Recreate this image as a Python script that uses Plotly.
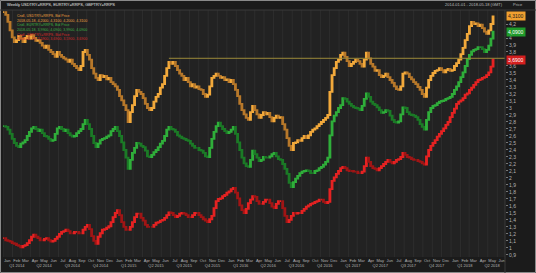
import plotly.graph_objects as go
import pandas as pd

# ---------------- data ----------------
week_start = "2014-01-03"

orange_close = [
    4.37, 4.33, 4.23, 4.11, 4.01, 3.94, 3.97, 4.03, 3.99, 3.94,
    4.00, 4.03, 3.99, 4.04, 4.00, 3.96, 3.97, 3.93, 3.89, 3.86,
    3.89, 3.83, 3.80, 3.77, 3.73, 3.80, 3.76, 3.73, 3.71, 3.69,
    3.66, 3.69, 3.63, 3.60, 3.57, 3.54, 3.60, 3.80, 3.83, 3.76,
    3.69, 3.57, 3.49, 3.43, 3.40, 3.47, 3.44, 3.46, 3.41, 3.43,
    3.37, 3.34, 3.31, 3.26, 3.17, 3.11, 3.04, 2.97, 2.80, 2.94,
    3.04, 3.17, 3.26, 3.23, 3.20, 3.14, 3.06, 3.00, 2.97, 3.00,
    3.09, 3.16, 3.20, 3.29, 3.34, 3.46, 3.57, 3.66, 3.63, 3.66,
    3.60, 3.54, 3.49, 3.46, 3.40, 3.43, 3.37, 3.31, 3.34, 3.29,
    3.31, 3.27, 3.26, 3.20, 3.16, 3.19, 3.31, 3.43, 3.46, 3.49,
    3.46, 3.43, 3.44, 3.40, 3.41, 3.37, 3.40, 3.34, 3.26, 3.17,
    3.06, 2.97, 2.91, 2.86, 2.83, 2.94, 3.03, 2.97, 2.91, 2.86,
    2.90, 2.94, 2.91, 2.93, 2.87, 2.81, 2.86, 2.89, 2.86, 2.87,
    2.77, 2.69, 2.57, 2.46, 2.40, 2.50, 2.51, 2.54, 2.53, 2.57,
    2.60, 2.57, 2.61, 2.66, 2.69, 2.71, 2.74, 2.77, 2.80, 2.83,
    2.86, 2.90, 3.23, 3.47, 3.57, 3.66, 3.69, 3.76, 3.79, 3.73,
    3.67, 3.60, 3.63, 3.66, 3.69, 3.67, 3.63, 3.59, 3.69, 3.79,
    3.71, 3.63, 3.59, 3.53, 3.54, 3.47, 3.44, 3.46, 3.49, 3.44,
    3.40, 3.36, 3.31, 3.27, 3.26, 3.31, 3.49, 3.51, 3.49, 3.44,
    3.41, 3.37, 3.34, 3.30, 3.26, 3.20, 3.16, 3.29, 3.40, 3.46,
    3.50, 3.53, 3.54, 3.57, 3.54, 3.51, 3.54, 3.56, 3.53, 3.54,
    3.60, 3.64, 3.69, 3.77, 3.86, 3.97, 4.06, 4.17, 4.23, 4.20,
    4.21, 4.17, 4.19, 4.14, 4.09, 4.06, 4.11, 4.20, 4.31,
]

green_close = [
    2.74, 2.73, 2.69, 2.63, 2.56, 2.50, 2.46, 2.44, 2.49, 2.51,
    2.54, 2.60, 2.66, 2.71, 2.73, 2.70, 2.67, 2.69, 2.64, 2.60,
    2.59, 2.56, 2.53, 2.54, 2.63, 2.71, 2.73, 2.70, 2.67, 2.69,
    2.64, 2.61, 2.59, 2.60, 2.64, 2.67, 2.70, 2.77, 2.83, 2.77,
    2.70, 2.60, 2.50, 2.44, 2.49, 2.54, 2.56, 2.57, 2.59, 2.61,
    2.67, 2.70, 2.73, 2.67, 2.60, 2.51, 2.40, 2.29, 2.13, 2.26,
    2.36, 2.43, 2.50, 2.49, 2.46, 2.44, 2.39, 2.31, 2.30, 2.33,
    2.37, 2.40, 2.44, 2.49, 2.53, 2.60, 2.69, 2.73, 2.70, 2.69,
    2.66, 2.61, 2.59, 2.57, 2.56, 2.54, 2.53, 2.49, 2.46, 2.43,
    2.43, 2.40, 2.39, 2.36, 2.31, 2.30, 2.43, 2.56, 2.66, 2.74,
    2.79, 2.74, 2.70, 2.67, 2.64, 2.66, 2.69, 2.73, 2.63, 2.51,
    2.40, 2.29, 2.21, 2.17, 2.16, 2.26, 2.39, 2.34, 2.29, 2.24,
    2.26, 2.30, 2.29, 2.29, 2.31, 2.34, 2.36, 2.31, 2.27, 2.26,
    2.20, 2.13, 2.06, 1.93, 1.87, 1.94, 1.99, 2.03, 2.07, 2.09,
    2.10, 2.11, 2.10, 2.07, 2.07, 2.10, 2.11, 2.14, 2.16, 2.19,
    2.23, 2.29, 2.61, 2.81, 2.89, 2.94, 3.00, 3.04, 3.14, 3.13,
    3.09, 3.06, 3.03, 3.01, 3.00, 2.99, 2.97, 3.03, 3.13, 3.21,
    3.16, 3.09, 3.06, 3.04, 3.01, 2.97, 2.93, 2.94, 2.97, 2.96,
    2.89, 2.83, 2.80, 2.79, 2.81, 2.91, 3.01, 3.00, 2.94, 2.91,
    2.90, 2.89, 2.87, 2.83, 2.77, 2.73, 2.69, 2.83, 2.94, 3.00,
    3.03, 3.04, 3.07, 3.09, 3.10, 3.11, 3.13, 3.14, 3.16, 3.20,
    3.26, 3.31, 3.37, 3.44, 3.51, 3.60, 3.70, 3.76, 3.81, 3.83,
    3.84, 3.87, 3.87, 3.84, 3.80, 3.83, 3.89, 3.99, 4.09,
]

red_close = [
    1.14, 1.11, 1.10, 1.09, 1.07, 1.06, 1.04, 1.03, 1.01, 1.03,
    1.04, 1.07, 1.11, 1.16, 1.19, 1.16, 1.14, 1.11, 1.11, 1.13,
    1.14, 1.11, 1.09, 1.10, 1.13, 1.16, 1.20, 1.23, 1.24, 1.26,
    1.24, 1.21, 1.21, 1.23, 1.23, 1.21, 1.21, 1.26, 1.30, 1.33,
    1.27, 1.17, 1.10, 1.06, 1.16, 1.21, 1.26, 1.27, 1.29, 1.31,
    1.37, 1.44, 1.50, 1.54, 1.47, 1.37, 1.30, 1.26, 1.26, 1.30,
    1.37, 1.44, 1.49, 1.49, 1.43, 1.39, 1.33, 1.30, 1.30, 1.30,
    1.33, 1.36, 1.37, 1.39, 1.40, 1.43, 1.47, 1.51, 1.50, 1.47,
    1.44, 1.46, 1.49, 1.50, 1.49, 1.47, 1.44, 1.44, 1.47, 1.50,
    1.50, 1.47, 1.44, 1.41, 1.39, 1.37, 1.41, 1.46, 1.57, 1.67,
    1.70, 1.71, 1.74, 1.76, 1.79, 1.81, 1.84, 1.86, 1.79, 1.71,
    1.61, 1.54, 1.50, 1.56, 1.64, 1.69, 1.74, 1.73, 1.67, 1.63,
    1.63, 1.66, 1.69, 1.69, 1.64, 1.59, 1.57, 1.63, 1.67, 1.67,
    1.57, 1.46, 1.37, 1.40, 1.46, 1.50, 1.49, 1.50, 1.50, 1.53,
    1.56, 1.59, 1.61, 1.63, 1.64, 1.66, 1.67, 1.69, 1.69, 1.66,
    1.64, 1.66, 1.84, 1.96, 2.01, 2.06, 2.10, 2.14, 2.16, 2.14,
    2.11, 2.10, 2.10, 2.09, 2.09, 2.07, 2.07, 2.09, 2.17, 2.29,
    2.23, 2.17, 2.14, 2.13, 2.11, 2.14, 2.17, 2.20, 2.23, 2.26,
    2.23, 2.21, 2.23, 2.26, 2.27, 2.30, 2.36, 2.33, 2.30, 2.29,
    2.27, 2.26, 2.26, 2.24, 2.23, 2.21, 2.19, 2.31, 2.40, 2.46,
    2.50, 2.54, 2.59, 2.63, 2.67, 2.71, 2.76, 2.80, 2.87, 2.93,
    2.99, 3.06, 3.09, 3.11, 3.14, 3.19, 3.21, 3.26, 3.29, 3.33,
    3.37, 3.40, 3.41, 3.43, 3.44, 3.47, 3.51, 3.59, 3.69,
]

series_names = ["USDTRY=RRPS", "EURTRY=RRPS", "GBPTRY=RRPS"]
hline_level = 3.71
hline_start = "2015-06-26"
x_start, x_end = "2014-01-01", "2018-06-26"
y_min, y_max = 0.871, 4.40
y_ticks = [round(0.9 + 0.1 * k, 1) for k in range(35)]
month_abbr = ["Jan", "Feb", "Mar", "Apr", "May", "Jun",
              "Jul", "Aug", "Sep", "Oct", "Nov", "Dec"]

# ---------------- styling ----------------
BG = "#222222"
PAPER = "#1b1b1b"
GRID = "#2d2d2d"
AXTXT = "#b4b4b4"
FONT = "Liberation Sans"

styles = [
    dict(inc="#f2a93b", dec="#b7782a", box="#f0a030", boxtxt="#1b1b1b", txt="#e8a040"),
    dict(inc="#2fae3a", dec="#1b7a26", box="#1f9a2a", boxtxt="#ffffff", txt="#3cb043"),
    dict(inc="#e52222", dec="#a01515", box="#d41e1e", boxtxt="#ffffff", txt="#d42a2a"),
]

W, H = 536, 273
ML, MR, MT, MB = 3, 31, 10, 16
pw, ph = W - ML - MR, H - MT - MB

dates = pd.date_range(week_start, periods=len(orange_close), freq="7D")

fig = go.Figure()


def fmt(v):
    return f"{v:.4f}".replace(".", ",")


legend_lines = []
last_vals = []
for closes, name, st in zip([orange_close, green_close, red_close], series_names, styles):
    opens = [closes[0]] + closes[:-1]
    highs = [max(o, c) for o, c in zip(opens, closes)]
    lows = [min(o, c) for o, c in zip(opens, closes)]
    fig.add_trace(go.Candlestick(
        x=dates, open=opens, high=highs, low=lows, close=closes,
        increasing=dict(line=dict(color=st["inc"], width=1.8), fillcolor=st["inc"]),
        decreasing=dict(line=dict(color=st["dec"], width=1.8), fillcolor=st["dec"]),
        whiskerwidth=0, hoverinfo="skip", showlegend=False,
    ))
    legend_lines.append((f"Cndl, {name}, Bid Price", st["txt"]))
    legend_lines.append((f"{dates[-1]:%Y-%m-%d}, {fmt(opens[-1])}, {fmt(highs[-1])}, "
                         f"{fmt(lows[-1])}, {fmt(closes[-1])}", st["txt"]))
    last_vals.append(closes[-1])
    # last value box on the price axis
    fig.add_annotation(
        x=1.0, xref="paper", xanchor="left", xshift=1,
        y=closes[-1], yref="y", yanchor="middle",
        text=fmt(closes[-1]), showarrow=False,
        font=dict(family=FONT, size=5, color=st["boxtxt"]),
        bgcolor=st["box"], borderpad=1,
    )

# axis ticks hidden behind the value boxes
shown_ticks = [t for t in y_ticks if all(abs(t - v) > 0.07 for v in last_vals)]

# horizontal drawn level line
fig.add_shape(type="line", xref="x", yref="y",
              x0=hline_start, x1=x_end, y0=hline_level, y1=hline_level,
              line=dict(color="#9c8a3a", width=1))

# legend text block (top-left), one multi-line annotation
legend_html = "<br>".join(f'<span style="color:{c}">{t}</span>' for t, c in legend_lines)
fig.add_annotation(
    x=(15 - ML) / pw, xref="paper", y=1 - (12 - MT) / ph, yref="paper",
    text=legend_html, showarrow=False, xanchor="left", yanchor="top", align="left",
    font=dict(family=FONT, size=3.6, color=AXTXT),
)

# month / quarter tick labels
months = pd.date_range(x_start, "2018-06-01", freq="MS")
tickvals, ticktext = [], []
for m in months:
    lab = month_abbr[m.month - 1]
    if m.month in (2, 5, 8, 11):
        lab += f"<br>Q{(m.month - 1) // 3 + 1} {m.year}"
    tickvals.append(m + pd.Timedelta(days=14))
    ticktext.append(lab)

fig.update_layout(
    width=W, height=H,
    margin=dict(l=ML, r=MR, t=MT, b=MB, pad=0),
    paper_bgcolor=PAPER, plot_bgcolor=BG,
    separators=",.",
    font=dict(family=FONT, size=5, color=AXTXT),
    showlegend=False,
    xaxis=dict(
        type="date", range=[x_start, x_end],
        rangeslider=dict(visible=False),
        tickmode="array", tickvals=tickvals, ticktext=ticktext,
        tickangle=0,
        tickfont=dict(family=FONT, size=4, color=AXTXT),
        ticks="", showgrid=False, zeroline=False, showline=False,
    ),
    yaxis=dict(
        side="right", range=[y_min, y_max],
        tickmode="array", tickvals=shown_ticks,
        tickfont=dict(family=FONT, size=5, color=AXTXT),
        ticks="outside", ticklen=2, tickcolor="#777",
        showgrid=False, zeroline=False, showline=False,
    ),
)

# monthly vertical grid stripes
for m in months:
    fig.add_shape(type="line", xref="x", yref="paper", x0=m, x1=m, y0=0, y1=1,
                  line=dict(color=GRID, width=1), layer="below")

# title bar, top-right info, axis header
fig.add_annotation(x=(5 - ML) / pw, xref="paper", y=1 + 5 / ph, yref="paper",
                   text="Weekly USDTRY=RRPS, EURTRY=RRPS, GBPTRY=RRPS",
                   showarrow=False, xanchor="left", yanchor="middle",
                   font=dict(family=FONT, size=4, color="#e6e6e6"))
fig.add_annotation(x=1.0, xref="paper", y=1 + 5 / ph, yref="paper",
                   text=f"{x_start} - {dates[-1]:%Y-%m-%d} (GMT)",
                   showarrow=False, xanchor="right", yanchor="middle",
                   font=dict(family=FONT, size=4, color="#bdbdbd"))
fig.add_annotation(x=1.0, xref="paper", xshift=6, y=1 + 5 / ph, yref="paper",
                   text="Price", showarrow=False, xanchor="left", yanchor="middle",
                   font=dict(family=FONT, size=4, color=AXTXT))

# frame around the whole picture
fig.add_shape(type="rect", xref="paper", yref="paper",
              x0=-ML / pw + 0.5 / pw, x1=1 + MR / pw - 0.5 / pw,
              y0=-MB / ph + 0.5 / ph, y1=1 + MT / ph - 0.5 / ph,
              line=dict(color="#8a8a8a", width=1))
# separator under title bar / right axis line
fig.add_shape(type="line", xref="paper", yref="paper", x0=-ML / pw, x1=1 + MR / pw,
              y0=1, y1=1, line=dict(color="#3a3a3a", width=1))
fig.add_shape(type="line", xref="paper", yref="paper", x0=1, x1=1,
              y0=-MB / ph, y1=1, line=dict(color="#3a3a3a", width=1))

fig.write_html("out.html")
